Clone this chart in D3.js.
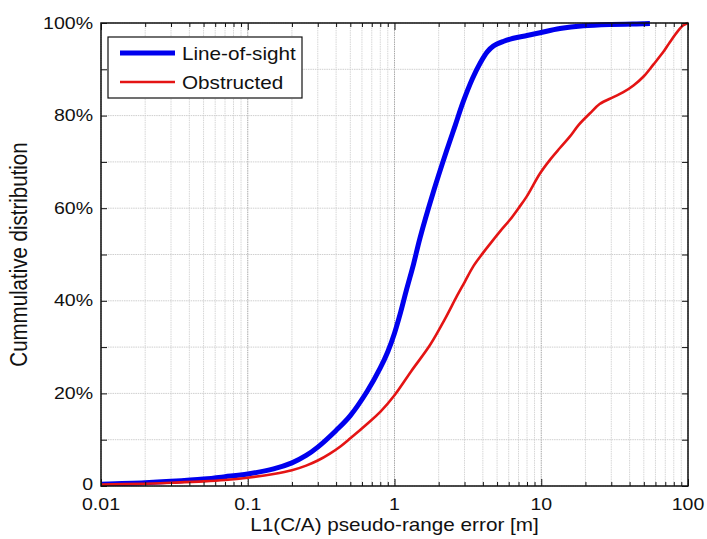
<!DOCTYPE html>
<html>
<head>
<meta charset="utf-8">
<script src="https://cdn.jsdelivr.net/npm/d3@7"></script>
<style>
  html, body { margin: 0; padding: 0; background: #fff; }
  svg { display: block; }
  text { font-family: "Liberation Sans", Arial, Helvetica, sans-serif; fill: #111; }
</style>
</head>
<body>
<svg id="chart" width="707" height="539"></svg>
<script>
// ---- data ----
const losError = [0.01, 0.02, 0.03, 0.05, 0.07, 0.1, 0.15, 0.2, 0.25, 0.3, 0.4, 0.5, 0.65, 0.8, 0.9, 1.0, 1.1, 1.21, 1.35, 1.49, 1.84, 2.27, 2.6, 2.94, 3.4, 3.83, 4.3, 4.71, 5.5, 6.46, 8, 9.8, 13.4, 19.4, 30, 49.5, 55];
const losCdf   = [0.4, 0.7, 1.0, 1.5, 2.0, 2.6, 3.7, 5.0, 6.6, 8.4, 12.0, 15.2, 20.4, 25.5, 29.0, 33.0, 37.5, 42.5, 48.0, 53.5, 63.5, 72.5, 78.0, 83.0, 88.0, 91.3, 93.8, 95.0, 96.0, 96.7, 97.3, 97.9, 98.8, 99.4, 99.7, 99.85, 99.9];

const obsError = [0.01, 0.02, 0.03, 0.05, 0.07, 0.1, 0.15, 0.2, 0.25, 0.3, 0.363, 0.43, 0.5, 0.65, 0.8, 1.0, 1.3, 1.75, 2.2, 2.66, 3.0, 3.45, 4.0, 4.48, 5.24, 6.12, 7.0, 7.95, 9.8, 11.5, 13.4, 15.7, 18, 21.5, 25, 31, 36, 42.5, 50, 58, 67, 75, 85, 93, 100];
const obsCdf   = [0.3, 0.5, 0.7, 1.0, 1.3, 1.8, 2.6, 3.4, 4.4, 5.5, 7.0, 8.6, 10.3, 13.4, 16.0, 19.6, 24.8, 30.5, 36.0, 41.0, 44.0, 47.5, 50.3, 52.3, 55.0, 57.5, 60.0, 62.5, 67.5, 70.5, 73.0, 75.5, 78.0, 80.5, 82.5, 84.0, 85.0, 86.5, 88.5, 91.0, 93.5, 95.8, 98.2, 99.5, 100];

const seriesNames  = ["Line-of-sight", "Obstructed"];
const seriesColors = ["#0000ee", "#e41414"];
const xTickValues  = [0.01, 0.1, 1, 10, 100];
const xTickLabels  = ["0.01", "0.1", "1", "10", "100"];
const yTickValues  = [0, 20, 40, 60, 80, 100];
const yTickLabels  = ["0", "20%", "40%", "60%", "80%", "100%"];
const xTitle = "L1(C/A) pseudo-range error [m]";
const yTitle = "Cummulative distribution";

// ---- layout ----
const L = 101, R = 688, T = 23, B = 486;
const SX = 1.15; // horizontal text stretch seen in the picture
const svg = d3.select("#chart");

const x = d3.scaleLog().domain([0.01, 100]).range([L, R]);
const y = d3.scaleLinear().domain([0, 100]).range([B, T]);

const allX = x.ticks(40);
const isDecade = v => Math.abs(Math.log10(v) - Math.round(Math.log10(v))) < 1e-9;
const yMinor = d3.range(0, 101, 10);

// grid
const grid = svg.append("g");
grid.selectAll("line.gx").data(allX).enter().append("line")
  .attr("x1", d => x(d)).attr("x2", d => x(d)).attr("y1", T).attr("y2", B)
  .attr("stroke", d => isDecade(d) ? "#a8a8a8" : "#d6d6d6")
  .attr("stroke-width", 1).attr("stroke-dasharray", "1.5,0.8");
grid.selectAll("line.gy").data(yMinor).enter().append("line")
  .attr("y1", d => y(d)).attr("y2", d => y(d)).attr("x1", L).attr("x2", R)
  .attr("stroke", "#cfcfcf").attr("stroke-width", 1).attr("stroke-dasharray", "1.5,0.8");

// curves
const line = d3.line().x(d => x(d[0])).y(d => y(d[1])).curve(d3.curveCatmullRom.alpha(0.5));
const losData = losError.map((e, i) => [e, losCdf[i]]);
const obsData = obsError.map((e, i) => [e, obsCdf[i]]);
svg.append("clipPath").attr("id", "clip").append("rect")
  .attr("x", L).attr("y", T - 3).attr("width", R - L).attr("height", B - T + 3);
const curves = svg.append("g").attr("clip-path", "url(#clip)");
curves.append("path").datum(losData).attr("d", line).attr("fill", "none")
  .attr("stroke", seriesColors[0]).attr("stroke-width", 5).attr("stroke-linejoin", "round");
curves.append("path").datum(obsData).attr("d", line).attr("fill", "none")
  .attr("stroke", seriesColors[1]).attr("stroke-width", 2.6).attr("stroke-linejoin", "round");

// axes ticks (inward, all four sides)
const xMajorLen = 7, xMinorLen = 4, yLen = 6;
svg.append("g").attr("transform", `translate(0,${B})`)
  .call(d3.axisTop(x).tickValues(allX).tickFormat("").tickSizeOuter(0).tickSizeInner(0))
  .call(g => g.select(".domain").remove())
  .call(g => g.selectAll(".tick line").attr("y2", d => -(isDecade(d) ? xMajorLen : xMinorLen)).attr("stroke", "#111"));
svg.append("g").attr("transform", `translate(0,${T})`)
  .call(d3.axisBottom(x).tickValues(allX).tickFormat("").tickSizeOuter(0).tickSizeInner(0))
  .call(g => g.select(".domain").remove())
  .call(g => g.selectAll(".tick line").attr("y2", d => (isDecade(d) ? xMajorLen : xMinorLen)).attr("stroke", "#111"));
svg.append("g").attr("transform", `translate(${L},0)`)
  .call(d3.axisRight(y).tickValues(yMinor).tickFormat("").tickSize(yLen).tickSizeOuter(0))
  .call(g => g.select(".domain").remove())
  .call(g => g.selectAll(".tick line").attr("stroke", "#111"));
svg.append("g").attr("transform", `translate(${R},0)`)
  .call(d3.axisLeft(y).tickValues(yMinor).tickFormat("").tickSize(yLen).tickSizeOuter(0))
  .call(g => g.select(".domain").remove())
  .call(g => g.selectAll(".tick line").attr("stroke", "#111"));

// frame
svg.append("rect").attr("x", L).attr("y", T).attr("width", R - L).attr("height", B - T)
  .attr("fill", "none").attr("stroke", "#111").attr("stroke-width", 1.5);

// helper for stretched text
function stext(px, py, str, size, anchor) {
  const g = svg.append("g").attr("transform", `translate(${px},${py})`);
  g.append("text").attr("transform", `scale(${SX},1)`)
    .attr("text-anchor", anchor).attr("font-size", size).text(str);
  return g;
}

// tick labels
xTickValues.forEach((v, i) => stext(x(v), 509.5, xTickLabels[i], 17, "middle"));
yTickValues.forEach((v, i) => stext(93, y(v) + (v === 0 ? 4 : 5.5), yTickLabels[i], 17, "end"));

// axis titles
stext((L + R) / 2, 531, xTitle, 18, "middle");
const yt = svg.append("g").attr("transform", `translate(27,${(T + B) / 2}) rotate(-90)`);
yt.append("text").attr("transform", `scale(1,${SX})`).attr("text-anchor", "middle").attr("font-size", 20.5).text(yTitle);

// legend
const lg = svg.append("g");
lg.append("rect").attr("x", 108).attr("y", 37).attr("width", 194).attr("height", 61)
  .attr("fill", "#fff").attr("stroke", "#111").attr("stroke-width", 1.2);
const legY = [53, 82];
seriesNames.forEach((n, i) => {
  lg.append("line").attr("x1", 120).attr("x2", 175).attr("y1", legY[i]).attr("y2", legY[i])
    .attr("stroke", seriesColors[i]).attr("stroke-width", i === 0 ? 5 : 2.6);
  stext(182, legY[i] + 7, n, 18, "start");
});
</script>
</body>
</html>
